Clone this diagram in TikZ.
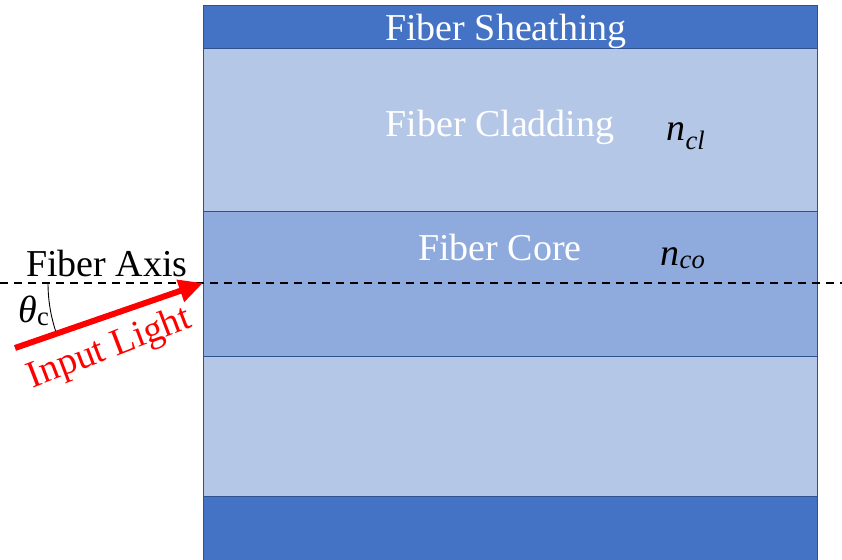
\documentclass[tikz,border=0pt]{standalone}
\usepackage{fontspec}
\setmainfont{Liberation Serif}
\usetikzlibrary{positioning, arrows.meta}
\definecolor{sheathblue}{HTML}{4472C4}
\definecolor{cladblue}{HTML}{B4C7E7}
\definecolor{coreblue}{HTML}{8FAADC}
\definecolor{edgeblue}{HTML}{2F528F}
\tikzstyle{fiberlayer} = [rectangle, minimum width=614pt, inner sep=0pt, outer sep=0pt, draw=edgeblue, line width=0.8pt]
\tikzstyle{sheath} = [fiberlayer, fill=sheathblue]
\tikzstyle{cladding} = [fiberlayer, fill=cladblue]
\tikzstyle{core} = [fiberlayer, fill=coreblue]
\tikzstyle{txt} = [font=\fontsize{38}{40}\selectfont, inner sep=0pt, anchor=base]
\tikzstyle{axisline} = [dash pattern=on 8pt off 6pt, line width=1.3pt]
\tikzstyle{arrow} = [line width=6pt, red, -{Triangle[length=24pt,width=22pt]}]

\begin{document}
\begin{tikzpicture}[x=1pt, y=1pt]
        \useasboundingbox (0,0) rectangle (842,-559);
        % layers of the fiber, top to bottom
        \node (sheathtop) [sheath, minimum height=43pt] at (510,-26.5) {};
        \node (cladtop) [cladding, minimum height=163pt, below=0pt of sheathtop] {};
        \node (core) [core, minimum height=145pt, below=0pt of cladtop] {};
        \node (cladbot) [cladding, minimum height=140pt, below=0pt of core] {};
        \node (sheathbot) [sheath, minimum height=66pt, below=0pt of cladbot] {};

        \node (sheathtxt) [txt, white] at (506,-41) {Fiber Sheathing};
        \node (cladtxt) [txt, white] at (500,-136) {Fiber Cladding};
        \node (coretxt) [txt, white] at (500,-260) {Fiber Core};
        \node (ncl) [txt] at (686,-140) {\textit{n}\textsubscript{\textit{cl}}};
        \node (nco) [txt] at (683,-265) {\textit{n}\textsubscript{\textit{co}}};

        % axis and incoming ray
        \coordinate (axisL) at (0,-283);
        \coordinate (axisR) at (842,-283);
        \coordinate (entry) at (203,-283);
        \coordinate (src) at (15,-348);
        \draw[axisline] (axisL) -- (axisR);
        \node (axistxt) [txt] at (107,-276) {Fiber Axis};
        \draw[line width=0.9pt] (entry) ++(180:155) arc (180:199:155);
        \node (theta) [txt] at (34,-322) {\textit{θ}\textsubscript{c}};
        \draw[arrow] (src) -- (entry);
        \node (inputtxt) [txt, red, anchor=center, rotate=21] at (110,-349) {Input Light};
    \end{tikzpicture}
\end{document}
